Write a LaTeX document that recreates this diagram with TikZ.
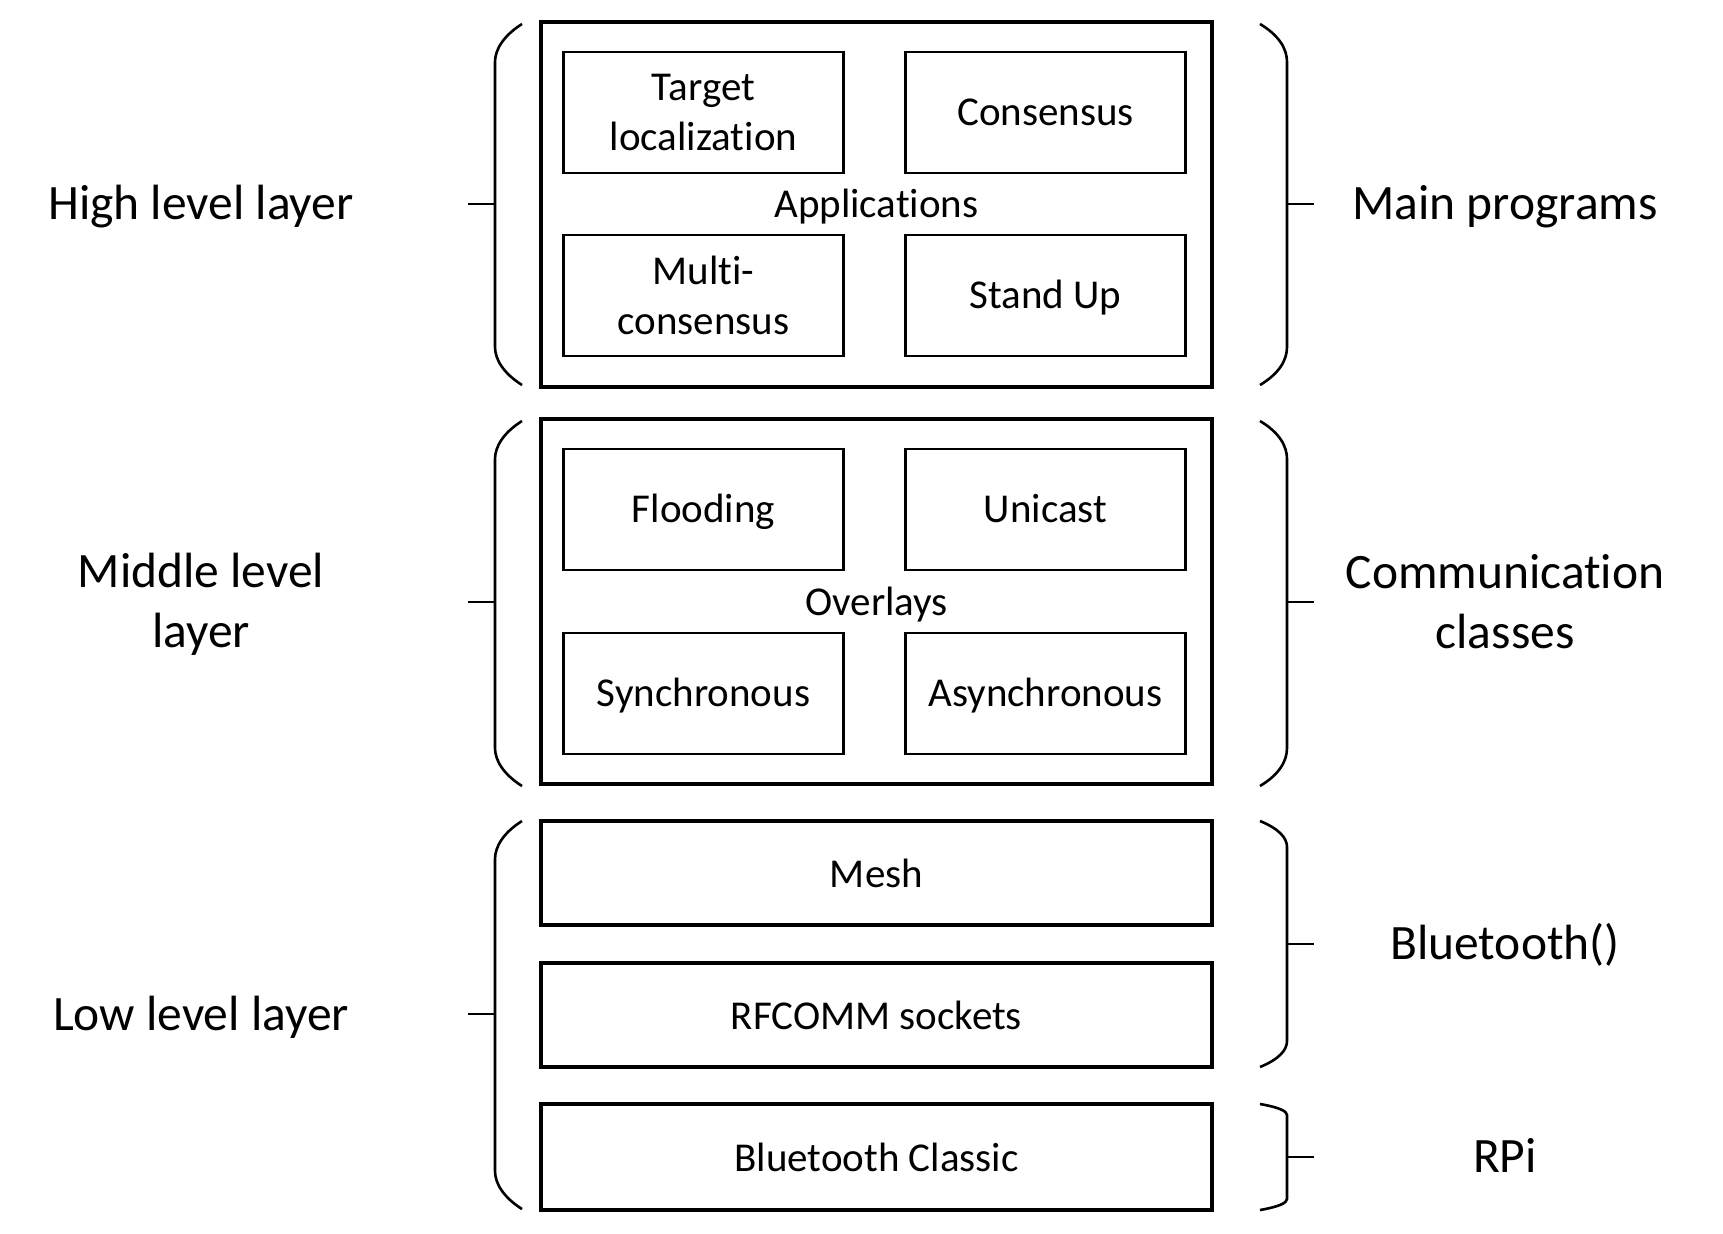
\documentclass[tikz,border=0pt]{standalone}
\usepackage{fontspec}
\setmainfont{Carlito}[Ligatures=NoCommon]

\tikzset{
  layerbox/.style={draw, line width=1.6pt, minimum width=335.5pt, inner sep=0pt,
    font=\fontsize{20.5}{25}\selectfont},
  modbox/.style={draw, line width=1.4pt, minimum width=140pt, minimum height=60.5pt,
    inner sep=0pt, align=center, font=\fontsize{20.5}{25}\selectfont},
  smallline/.style={text height=13pt, text depth=0pt},
  bigline/.style={text height=15.7pt, text depth=0pt},
  grouplabel/.style={smallline, font=\fontsize{20.5}{25}\selectfont},
  sidelabel/.style={align=center, font=\fontsize{24.75}{30}\selectfont},
  bracket/.style={line width=1.3pt},
}

\begin{document}
\begin{tikzpicture}[x=0.5pt,y=-0.5pt]
  \useasboundingbox (0,0) rectangle (1723,1233);

  % high level layer
  \node[layerbox, minimum height=182.5pt] (high) at (876.5,204.5) {};
  \node[modbox] (target) at (703.5,112.5) {Target\\localization};
  \node[modbox, smallline] (consensus) at (1045.5,112.5) {Consensus};
  \node[modbox] (multi) at (703.5,295.5) {Multi-\\consensus};
  \node[modbox, smallline] (standup) at (1045.5,295.5) {Stand Up};
  \node[grouplabel] (apps) at (876.5,204) {Applications};

  % middle level layer
  \node[layerbox, minimum height=182.5pt] (middle) at (876.5,601.5) {};
  \node[modbox, smallline] (flooding) at (703.5,509.5) {Flooding};
  \node[modbox, smallline] (unicast) at (1045.5,509.5) {Unicast};
  \node[modbox, smallline] (sync) at (703.5,693.5) {Synchronous};
  \node[modbox, smallline] (async) at (1045.5,693.5) {Asynchronous};
  \node[grouplabel] (overlays) at (876.5,602) {Overlays};

  % low level layer
  \node[layerbox, minimum height=52pt] (mesh) at (876.5,873) {Mesh};
  \node[layerbox, minimum height=52pt] (rfcomm) at (876.5,1015) {RFCOMM sockets};
  \node[layerbox, minimum height=53pt] (classic) at (876.5,1157) {Bluetooth Classic};

  % left braces
  \foreach \ya/\yb/\ym in {24/385/204, 421/786/602, 821/1209/1014}{
    \draw[bracket] (522,\ya) .. controls (503,\ya+12) and (495,\ya+26) .. (495,\ya+38)
      -- (495,\yb-38) .. controls (495,\yb-26) and (503,\yb-12) .. (522,\yb);
    \draw[bracket] (495,\ym) -- (468,\ym);
  }

  % right braces
  \foreach \ya/\yb/\ym/\c in {24/385/204/38, 421/786/602/38, 821/1067/944/26, 1104/1210/1157/11}{
    \draw[bracket] (1260,\ya) .. controls (1279,\ya+0.3*\c) and (1287,\ya+0.65*\c) .. (1287,\ya+\c)
      -- (1287,\yb-\c) .. controls (1287,\yb-0.65*\c) and (1279,\yb-0.3*\c) .. (1260,\yb);
    \draw[bracket] (1287,\ym) -- (1314,\ym);
  }

  % side labels
  \node[sidelabel, bigline] (highlbl) at (201,204) {High level layer};
  \node[sidelabel] (midlbl) at (201,604) {Middle level\\layer};
  \node[sidelabel, bigline] (lowlbl) at (201,1015) {Low level layer};
  \node[sidelabel, bigline] (mainlbl) at (1505,204) {Main programs};
  \node[sidelabel] (commlbl) at (1505,602) {Communication\\classes};
  \node[sidelabel, bigline] (btlbl) at (1505,944) {Bluetooth()};
  \node[sidelabel, bigline] (rpilbl) at (1505,1157) {RPi};
\end{tikzpicture}
\end{document}
